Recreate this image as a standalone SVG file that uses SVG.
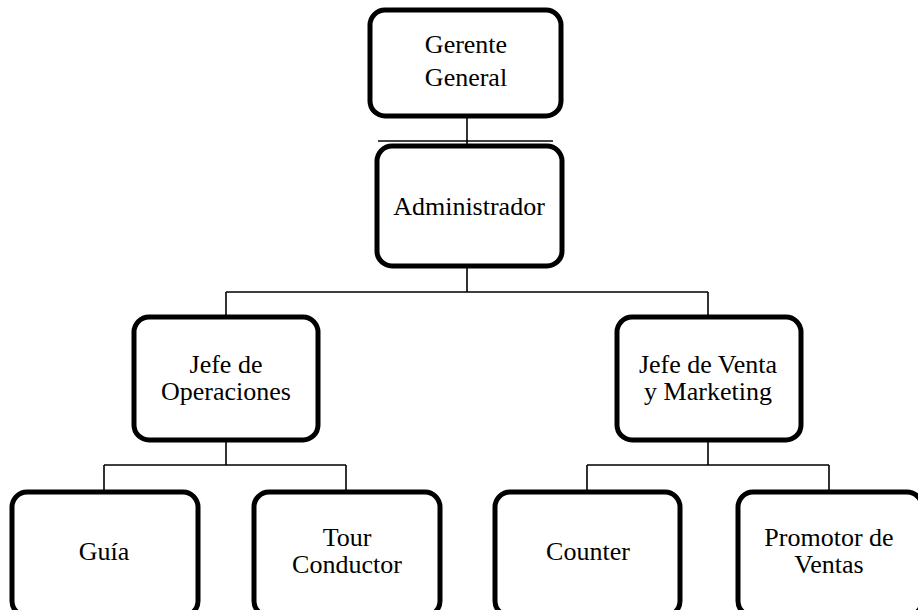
<svg xmlns="http://www.w3.org/2000/svg" width="918" height="610" viewBox="0 0 918 610">
<style>
.box{fill:#fff;stroke:#000;stroke-width:5}
.c{stroke:#000;stroke-width:1.6;fill:none}
text{font-family:"Liberation Serif","Times New Roman",serif;font-size:26px;fill:#000;text-anchor:middle}
</style>
<rect width="918" height="610" fill="#fff"/>
<g id="connectors">
<path class="c" d="M467,118V144"/>
<path class="c" d="M378,141H553"/>
<path class="c" d="M467,268V292M226,292H708M226,292V315M708,292V315"/>
<path class="c" d="M226,442V465M104,465H346M104,465V490M346,465V490"/>
<path class="c" d="M708,442V465M587,465H829M587,465V490M829,465V490"/>
</g>
<g id="gerente"><rect class="box" x="370" y="10" width="191" height="106" rx="15"/><text x="466" y="53">Gerente</text><text x="466" y="86">General</text></g>
<g id="administrador"><rect class="box" x="377" y="146" width="185" height="120" rx="15"/><text x="469" y="215">Administrador</text></g>
<g id="jefe-operaciones"><rect class="box" x="134" y="317" width="184" height="123" rx="15"/><text x="226" y="373">Jefe de</text><text x="226" y="400">Operaciones</text></g>
<g id="jefe-ventas"><rect class="box" x="617" y="317" width="184" height="123" rx="15"/><text x="708" y="373">Jefe de Venta</text><text x="708" y="400">y Marketing</text></g>
<g id="guia"><rect class="box" x="12" y="492" width="186" height="124" rx="15"/><text x="104" y="560">Guía</text></g>
<g id="tour"><rect class="box" x="254" y="492" width="186" height="124" rx="15"/><text x="347" y="546">Tour</text><text x="347" y="573">Conductor</text></g>
<g id="counter"><rect class="box" x="495" y="492" width="185" height="124" rx="15"/><text x="588" y="560">Counter</text></g>
<g id="promotor"><rect class="box" x="738" y="492" width="184" height="124" rx="15"/><text x="829" y="546">Promotor de</text><text x="829" y="573">Ventas</text></g>
</svg>
